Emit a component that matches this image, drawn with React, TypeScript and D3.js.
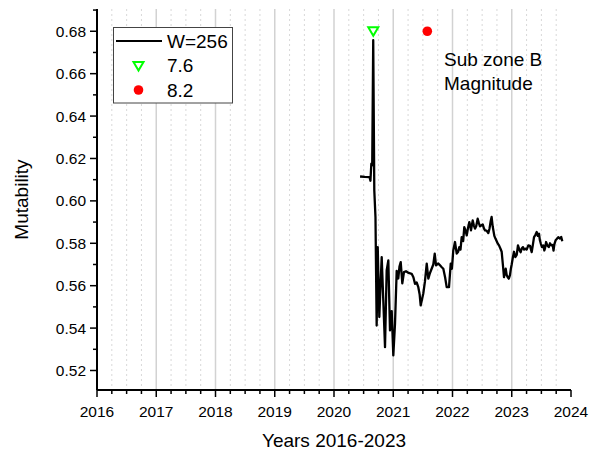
import React from "react";
import * as d3 from "d3";

const years: number[] = [
  2020.44, 2020.52, 2020.6, 2020.615, 2020.63, 2020.645, 2020.662, 2020.68, 2020.7, 2020.72,
  2020.738, 2020.765, 2020.785, 2020.805, 2020.832, 2020.861, 2020.889, 2020.917, 2020.945, 2020.974,
  2021.001, 2021.03, 2021.058, 2021.085, 2021.105, 2021.126, 2021.153, 2021.181, 2021.215, 2021.26,
  2021.311, 2021.34, 2021.367, 2021.395, 2021.423, 2021.445, 2021.463, 2021.485, 2021.507, 2021.535,
  2021.565, 2021.592, 2021.62, 2021.648, 2021.676, 2021.7, 2021.722, 2021.76, 2021.789, 2021.815,
  2021.845, 2021.875, 2021.902, 2021.941, 2021.97, 2021.99, 2022.013, 2022.042, 2022.071, 2022.095,
  2022.115, 2022.135, 2022.155, 2022.18, 2022.199, 2022.22, 2022.24, 2022.26, 2022.284, 2022.3,
  2022.312, 2022.341, 2022.36, 2022.38, 2022.4, 2022.425, 2022.445, 2022.464, 2022.49, 2022.51,
  2022.53, 2022.549, 2022.575, 2022.604, 2022.625, 2022.645, 2022.66, 2022.678, 2022.706, 2022.725,
  2022.746, 2022.765, 2022.785, 2022.81, 2022.83, 2022.85, 2022.869, 2022.885, 2022.898, 2022.915,
  2022.932, 2022.95, 2022.97, 2022.985, 2022.999, 2023.02, 2023.038, 2023.06, 2023.084, 2023.105,
  2023.128, 2023.15, 2023.168, 2023.19, 2023.207, 2023.23, 2023.252, 2023.28, 2023.308, 2023.325,
  2023.337, 2023.355, 2023.376, 2023.4, 2023.421, 2023.44, 2023.46, 2023.475, 2023.489, 2023.51,
  2023.533, 2023.55, 2023.561, 2023.58, 2023.6, 2023.625, 2023.646, 2023.67, 2023.691, 2023.705,
  2023.719, 2023.74, 2023.759, 2023.785, 2023.814, 2023.835, 2023.853,
];

const mutability: number[] = [
  0.6115, 0.6113, 0.6112, 0.6095, 0.6175, 0.6168, 0.6758, 0.6050, 0.5924, 0.5412,
  0.5782, 0.5452, 0.5600, 0.5735, 0.5530, 0.5310, 0.5672, 0.5719, 0.5389, 0.5480,
  0.5271, 0.5422, 0.5670, 0.5634, 0.5690, 0.5711, 0.5611, 0.5664, 0.5668, 0.5660,
  0.5656, 0.5640, 0.5609, 0.5615, 0.5593, 0.5560, 0.5507, 0.5535, 0.5563, 0.5620,
  0.5704, 0.5633, 0.5660, 0.5680, 0.5700, 0.5751, 0.5696, 0.5705, 0.5696, 0.5688,
  0.5680, 0.5640, 0.5593, 0.5593, 0.5704, 0.5680, 0.5766, 0.5806, 0.5751, 0.5760,
  0.5782, 0.5770, 0.5829, 0.5810, 0.5876, 0.5860, 0.5837, 0.5870, 0.5900, 0.5880,
  0.5861, 0.5908, 0.5885, 0.5869, 0.5880, 0.5916, 0.5895, 0.5880, 0.5885, 0.5889,
  0.5870, 0.5861, 0.5860, 0.5848, 0.5870, 0.5905, 0.5924, 0.5880, 0.5835, 0.5822,
  0.5810, 0.5798, 0.5790, 0.5774, 0.5760, 0.5700, 0.5640, 0.5660, 0.5680, 0.5650,
  0.5640, 0.5633, 0.5650, 0.5680, 0.5700, 0.5735, 0.5760, 0.5735, 0.5745, 0.5790,
  0.5770, 0.5758, 0.5775, 0.5782, 0.5770, 0.5775, 0.5770, 0.5790, 0.5788, 0.5770,
  0.5758, 0.5790, 0.5829, 0.5840, 0.5853, 0.5835, 0.5845, 0.5814, 0.5800, 0.5782,
  0.5790, 0.5766, 0.5776, 0.5806, 0.5790, 0.5782, 0.5800, 0.5790, 0.5792, 0.5766,
  0.5795, 0.5814, 0.5820, 0.5829, 0.5822, 0.5830, 0.5810,
];

const quake76 = { year: 2020.663, value: 0.68 };
const quake82 = { year: 2021.575, value: 0.68 };

const xTicks: number[] = [2016, 2017, 2018, 2019, 2020, 2021, 2022, 2023, 2024];
const yTicks: number[] = [0.52, 0.54, 0.56, 0.58, 0.6, 0.62, 0.64, 0.66, 0.68];

const legendLabels: string[] = ["W=256", "7.6", "8.2"];
const annotation: string[] = ["Sub zone B", "Magnitude"];
const xTitle = "Years 2016-2023";
const yTitle = "Mutability";

const FONT = "'Liberation Sans', Arial, Helvetica, sans-serif";

export default function App() {
  const W = 589;
  const H = 455;
  const left = 97;
  const right = 571;
  const top = 9;
  const bottom = 390;

  const x = d3.scaleLinear().domain([2016, 2024]).range([left, right]);
  const y = d3.scaleLinear().domain([0.5108, 0.6905]).range([bottom, top]);

  const minorX: number[] = [];
  for (let yr = 2016; yr < 2024; yr++) {
    for (let q = 1; q < 4; q++) minorX.push(yr + q / 4);
  }
  const minorY: number[] = [];
  for (let i = 0; i < 18; i++) {
    const v = +(0.51 + i * 0.01).toFixed(2);
    if (v > 0.5108 && !yTicks.some((t) => Math.abs(t - v) < 1e-6)) minorY.push(v);
  }

  const pts: [number, number][] = years.map((t, i) => [t, mutability[i]]);
  const line = d3
    .line<[number, number]>()
    .x((d) => x(d[0]))
    .y((d) => y(d[1]));

  const tri = (cx: number, cy: number, s: number) =>
    `M${cx - s},${cy - s * 0.8}L${cx + s},${cy - s * 0.8}L${cx},${cy + s * 0.9}Z`;

  return (
    <svg
      width={W}
      height={H}
      style={{ position: "absolute", left: 0, top: 0, background: "#fff" }}
      fontFamily={FONT}
    >
      <rect x={0} y={0} width={W} height={H} fill="#fff" />
      {/* minor grid */}
      {minorX.map((t) => (
        <line
          key={"mg" + t}
          x1={x(t)}
          x2={x(t)}
          y1={top}
          y2={bottom}
          stroke="#d8d8d8"
          strokeWidth={1}
          strokeDasharray="2,3"
        />
      ))}
      {/* major grid */}
      {xTicks.slice(0, -1).map((t) => (
        <line
          key={"g" + t}
          x1={x(t)}
          x2={x(t)}
          y1={top}
          y2={bottom}
          stroke="#d2d2d2"
          strokeWidth={1.5}
        />
      ))}

      {/* data line */}
      <path d={line(pts) || ""} fill="none" stroke="#000" strokeWidth={2.3} strokeLinejoin="round" />

      {/* quake markers */}
      <path
        d={tri(x(quake76.year), y(quake76.value), 5)}
        fill="none"
        stroke="#00ff00"
        strokeWidth={2}
      />
      <circle cx={x(quake82.year)} cy={y(quake82.value)} r={4.8} fill="#ff0000" />

      {/* axes */}
      <line x1={left} x2={left} y1={top} y2={bottom} stroke="#000" strokeWidth={2} />
      <line x1={left} x2={right} y1={bottom} y2={bottom} stroke="#000" strokeWidth={2} />
      <line x1={left - 4} x2={left} y1={y(0.69)} y2={y(0.69)} stroke="#000" strokeWidth={1.5} />
      {yTicks.map((t) => (
        <g key={"yt" + t}>
          <line x1={left - 7} x2={left} y1={y(t)} y2={y(t)} stroke="#000" strokeWidth={1.5} />
          <text
            x={left - 11}
            y={y(t)}
            dy="0.36em"
            textAnchor="end"
            fontSize={15.5}
            fill="#000"
          >
            {t.toFixed(2)}
          </text>
        </g>
      ))}
      {minorY.map((t) => (
        <line key={"ym" + t} x1={left - 4} x2={left} y1={y(t)} y2={y(t)} stroke="#000" strokeWidth={1.5} />
      ))}
      {xTicks.map((t) => (
        <g key={"xt" + t}>
          <line x1={x(t)} x2={x(t)} y1={bottom} y2={bottom + 7} stroke="#000" strokeWidth={1.5} />
          <text x={x(t)} y={bottom + 27} textAnchor="middle" fontSize={15.5} fill="#000">
            {t}
          </text>
        </g>
      ))}
      {minorX.map((t) => (
        <line key={"xm" + t} x1={x(t)} x2={x(t)} y1={bottom} y2={bottom + 4} stroke="#000" strokeWidth={1.5} />
      ))}

      {/* titles */}
      <text x={(left + right) / 2} y={447} textAnchor="middle" fontSize={19} fill="#000">
        {xTitle}
      </text>
      <text
        transform={`translate(28,${(top + bottom) / 2}) rotate(-90)`}
        textAnchor="middle"
        fontSize={19}
        fill="#000"
      >
        {yTitle}
      </text>

      {/* legend */}
      <rect x={113.5} y={27.5} width={119} height={75.5} fill="#fff" stroke="#444" strokeWidth={1} />
      <line x1={116} x2={162} y1={41} y2={41} stroke="#000" strokeWidth={2} />
      <text x={167} y={41} dy="0.36em" fontSize={19} fill="#000">
        {legendLabels[0]}
      </text>
      <path d={tri(138.5, 66, 5)} fill="none" stroke="#00ff00" strokeWidth={2} />
      <text x={167} y={65.5} dy="0.36em" fontSize={19} fill="#000">
        {legendLabels[1]}
      </text>
      <circle cx={138.5} cy={90} r={4.8} fill="#ff0000" />
      <text x={167} y={90} dy="0.36em" fontSize={19} fill="#000">
        {legendLabels[2]}
      </text>

      {/* annotation */}
      <text x={444} y={66} fontSize={19} fill="#000">
        {annotation[0]}
      </text>
      <text x={444} y={90} fontSize={19} fill="#000">
        {annotation[1]}
      </text>
    </svg>
  );
}
